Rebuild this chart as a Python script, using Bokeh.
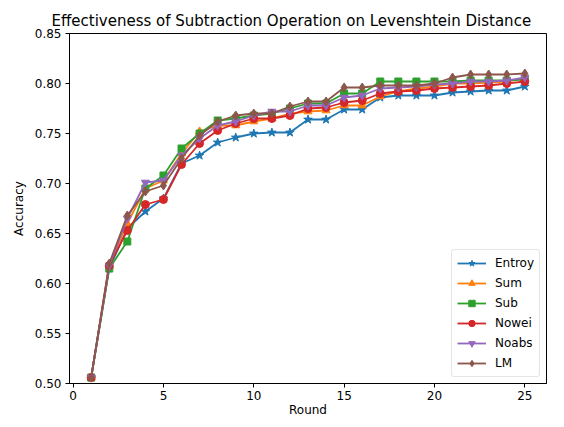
from bokeh.plotting import figure
from bokeh.models import FixedTicker, Range1d, NumeralTickFormatter, Legend, LegendItem
from bokeh.embed import file_html
from bokeh.resources import INLINE

rounds = list(range(1, 26))
entroy = [0.506, 0.615, 0.655, 0.672, 0.685, 0.720, 0.728, 0.741, 0.746, 0.750, 0.751, 0.751, 0.764,
          0.764, 0.774, 0.774, 0.786, 0.788, 0.788, 0.788, 0.791, 0.792, 0.793, 0.793, 0.797]
sum_ = [0.506, 0.617, 0.660, 0.695, 0.703, 0.730, 0.752, 0.758, 0.758, 0.762, 0.765, 0.770, 0.772,
        0.773, 0.778, 0.778, 0.787, 0.792, 0.795, 0.797, 0.800, 0.800, 0.801, 0.802, 0.805]
sub = [0.506, 0.615, 0.642, 0.695, 0.708, 0.735, 0.750, 0.763, 0.765, 0.768, 0.770, 0.775, 0.780,
       0.780, 0.790, 0.790, 0.802, 0.802, 0.802, 0.802, 0.802, 0.803, 0.803, 0.803, 0.804]
nowei = [0.506, 0.618, 0.653, 0.679, 0.684, 0.719, 0.740, 0.753, 0.760, 0.765, 0.765, 0.768, 0.775,
         0.776, 0.781, 0.783, 0.790, 0.792, 0.793, 0.795, 0.796, 0.797, 0.798, 0.800, 0.802]
noabs = [0.506, 0.618, 0.665, 0.701, 0.703, 0.728, 0.745, 0.758, 0.762, 0.768, 0.772, 0.772, 0.778,
         0.778, 0.786, 0.788, 0.795, 0.796, 0.797, 0.799, 0.800, 0.802, 0.802, 0.803, 0.806]
lm = [0.506, 0.620, 0.668, 0.692, 0.698, 0.725, 0.748, 0.762, 0.768, 0.770, 0.770, 0.777, 0.782,
      0.782, 0.796, 0.796, 0.798, 0.798, 0.798, 0.800, 0.806, 0.809, 0.809, 0.809, 0.810]

series_names = ["Entroy", "Sum", "Sub", "Nowei", "Noabs", "LM"]
series_values = [entroy, sum_, sub, nowei, noabs, lm]
colors = ["#1f77b4", "#ff7f0e", "#2ca02c", "#d62728", "#9467bd", "#8c564b"]
markers = ["star", "triangle", "square", "circle", "inverted_triangle", "diamond"]
msizes = [9, 8, 7, 8, 8, 9]

x_ticks = [0, 5, 10, 15, 20, 25]
y_ticks = [0.50, 0.55, 0.60, 0.65, 0.70, 0.75, 0.80, 0.85]

FONT = "DejaVu Sans"

p = figure(width=556, height=419, output_backend="svg", toolbar_location=None,
           x_range=Range1d(-0.2, 26.2), y_range=Range1d(0.50, 0.85),
           min_border_left=69, min_border_right=10, min_border_top=33, min_border_bottom=31)

p.title.text = "Effectiveness of Subtraction Operation on Levenshtein Distance"
p.title.align = "left"
p.title.offset = -18
p.title.text_font = FONT
p.title.text_font_size = "15px"
p.title.text_font_style = "normal"
p.title.text_color = "black"
p.title.standoff = 8

p.grid.visible = False
p.outline_line_color = "black"
p.outline_line_width = 1
p.outline_line_alpha = 1

for ax in (p.xaxis[0], p.yaxis[0]):
    ax.minor_tick_line_color = None
    ax.major_tick_in = 0
    ax.major_tick_out = 4
    ax.major_tick_line_color = "black"
    ax.axis_line_color = "black"
    ax.major_label_text_font = FONT
    ax.major_label_text_font_size = "12px"
    ax.major_label_text_color = "black"
    ax.axis_label_text_font = FONT
    ax.axis_label_text_font_size = "12px"
    ax.axis_label_text_font_style = "normal"
    ax.axis_label_text_color = "black"

p.xaxis.ticker = FixedTicker(ticks=x_ticks)
p.yaxis.ticker = FixedTicker(ticks=y_ticks)
p.yaxis.formatter = NumeralTickFormatter(format="0.00")
p.xaxis.axis_label = "Round"
p.yaxis.axis_label = "Accuracy"
p.xaxis.major_label_standoff = 3
p.yaxis.major_label_standoff = 4
p.xaxis.axis_label_standoff = 0
p.yaxis.axis_label_standoff = 6

items = []
for name, vals, c, m, s in zip(series_names, series_values, colors, markers, msizes):
    r1 = p.line(rounds, vals, line_color=c, line_width=1.8)
    r2 = p.scatter(rounds, vals, marker=m, size=s, fill_color=c, line_color=c)
    items.append(LegendItem(label=name, renderers=[r1, r2]))

legend = Legend(items=items, location="bottom_right")
legend.label_text_font = FONT
legend.label_text_font_size = "12px"
legend.label_text_color = "black"
legend.border_line_color = "#cccccc"
legend.border_line_width = 1
legend.border_radius = 3
legend.background_fill_alpha = 0.8
legend.glyph_width = 29
legend.glyph_height = 16
legend.label_standoff = 9
legend.spacing = 4
legend.padding = 5
legend.margin = 6
p.add_layout(legend)

open("out.html", "w").write(file_html(p, INLINE))
